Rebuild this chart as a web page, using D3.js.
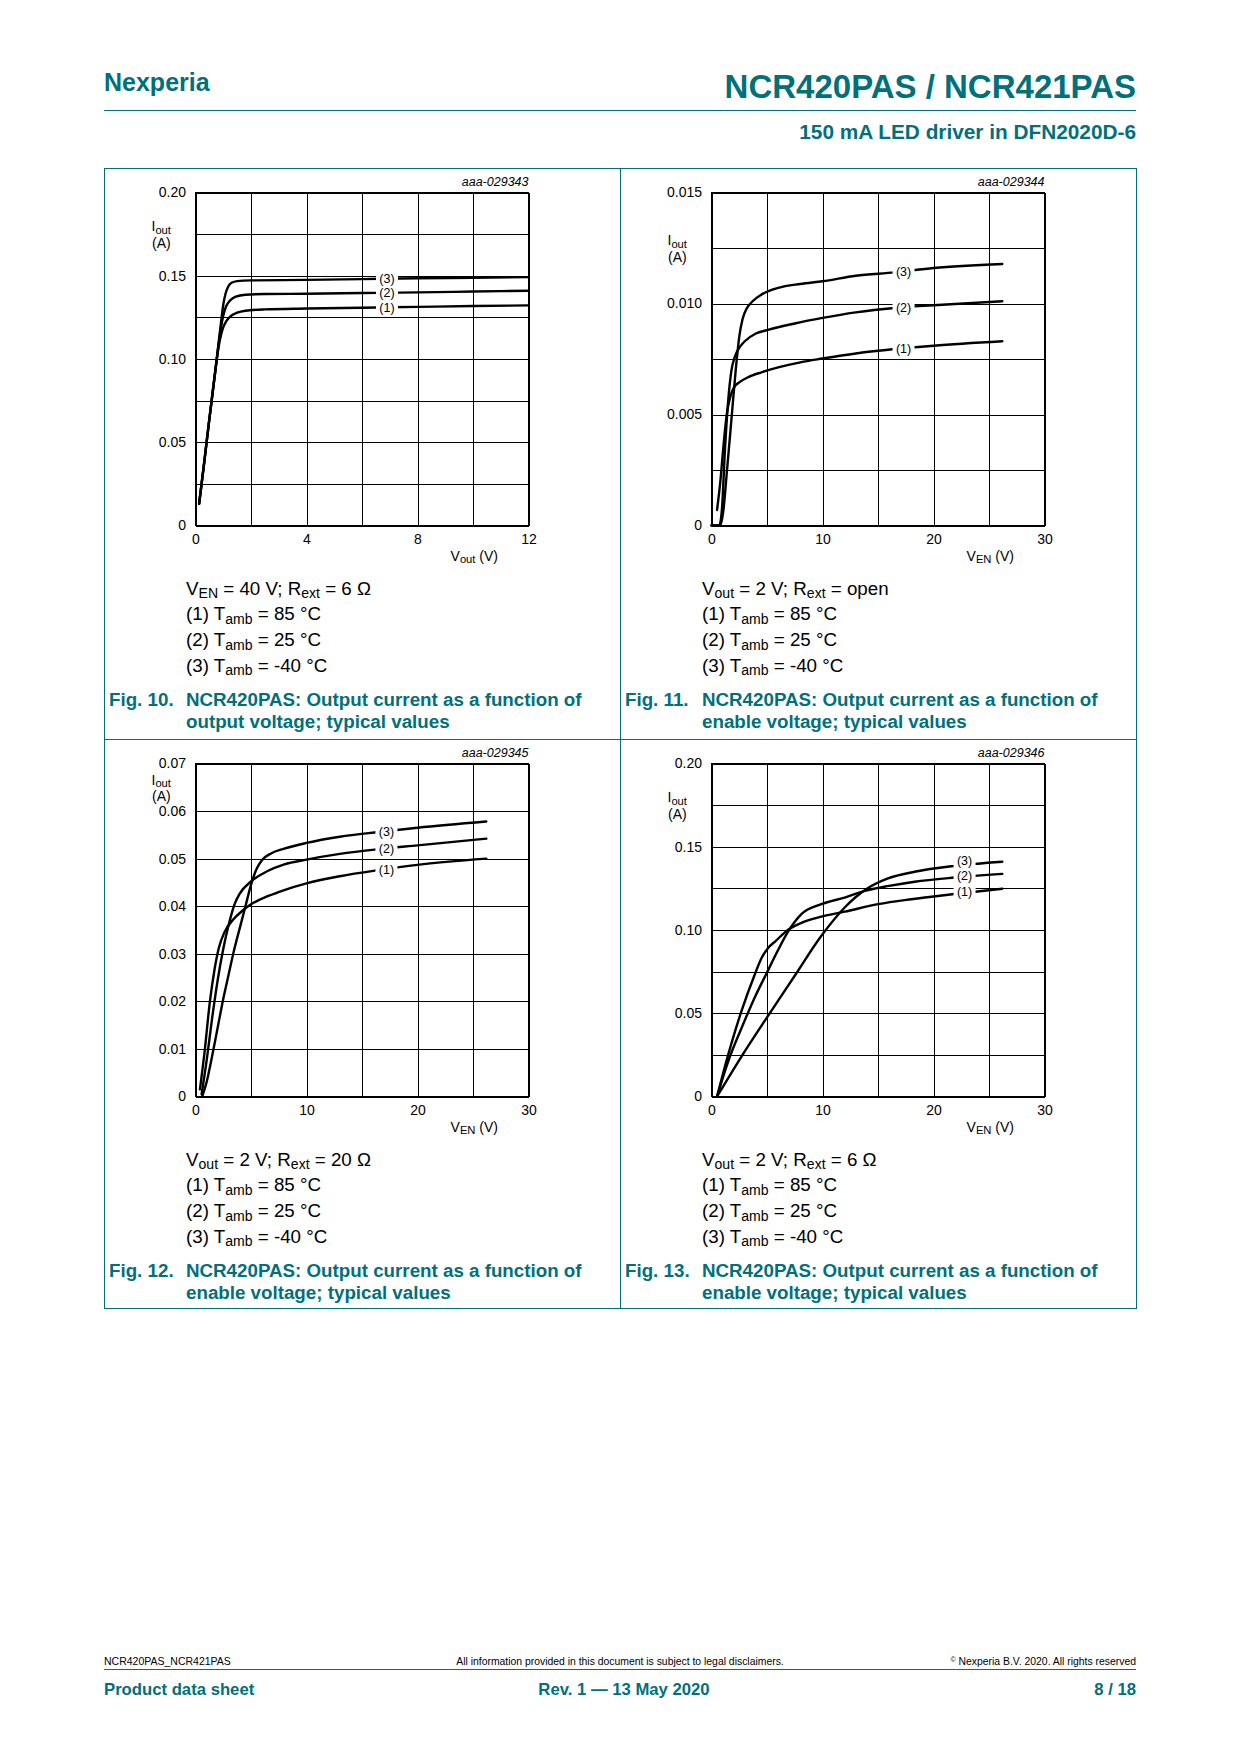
<!DOCTYPE html>
<html><head><meta charset="utf-8">
<script src="https://cdn.jsdelivr.net/npm/d3@7"></script>
<style>
html,body{margin:0;padding:0;background:#fff;}
svg{display:block;font-family:"Liberation Sans",Arial,Helvetica,sans-serif;}
text{white-space:pre;}
</style></head><body>
<svg id="page" width="1240" height="1754"></svg>
<script>
// ================= DATA =================
// Fig. 10 : Iout vs Vout (VEN = 40 V; Rext = 6 ohm)
const fig10T85  = [[0.13,0.013],[0.3,0.036],[0.5,0.064],[0.7,0.091],[0.82,0.106],[0.92,0.1145],[1.0,0.119],[1.1,0.1225],[1.25,0.1255],[1.5,0.1278],[1.8,0.129],[2.5,0.1298],[4,0.1303],[6,0.1308],[8,0.1313],[10,0.1318],[12,0.1322]];
const fig10T25  = [[0.13,0.013],[0.3,0.036],[0.5,0.064],[0.7,0.091],[0.82,0.107],[0.92,0.119],[1.0,0.126],[1.1,0.1315],[1.25,0.1352],[1.45,0.1375],[1.8,0.1386],[2.5,0.139],[4,0.1392],[6,0.1396],[8,0.14],[10,0.1405],[12,0.141]];
const fig10Tm40 = [[0.13,0.013],[0.3,0.036],[0.5,0.064],[0.7,0.091],[0.82,0.108],[0.92,0.122],[1.0,0.1325],[1.08,0.139],[1.18,0.1435],[1.3,0.1458],[1.5,0.1468],[2,0.1472],[4,0.1475],[6,0.148],[8,0.1485],[10,0.1488],[12,0.1492]];
const fig10XGrid = [0,2,4,6,8,10,12];
const fig10YGrid = [0,0.025,0.05,0.075,0.1,0.125,0.15,0.175,0.2];
const fig10XTicks = [0,4,8,12];
const fig10YTicks = [0,0.05,0.10,0.15,0.20];
const fig10YTickText = ["0","0.05","0.10","0.15","0.20"];
const fig10LabelX = 6.9;

// Fig. 11 : Iout vs VEN (Vout = 2 V; Rext = open)
const fig11T85  = [[0.5,0.0007],[0.8,0.002],[1.1,0.0037],[1.4,0.0051],[1.7,0.0058],[2.0,0.0062],[2.5,0.00645],[3.3,0.00668],[4.5,0.0069],[6,0.00712],[8,0.00735],[10,0.00752],[13,0.00775],[16.5,0.00795],[20,0.0081],[26.2,0.0083]];
const fig11T25  = [[0,0],[0.7,0],[0.95,0.0008],[1.2,0.0033],[1.5,0.0056],[1.8,0.007],[2.1,0.0076],[2.5,0.008],[3.0,0.0083],[4,0.00865],[5,0.0088],[7.5,0.0091],[10,0.00935],[13,0.0096],[16.5,0.0098],[20,0.00992],[26.2,0.0101]];
const fig11Tm40 = [[0,0],[0.8,0],[1.05,0.0006],[1.4,0.0025],[1.8,0.0048],[2.2,0.0071],[2.5,0.0085],[2.8,0.0093],[3.2,0.0098],[3.7,0.0101],[4.5,0.0104],[6,0.0107],[8,0.01088],[10,0.011],[13,0.01125],[16.5,0.0114],[20,0.0116],[26.2,0.01178]];
const fig11XGrid = [0,5,10,15,20,25,30];
const fig11YGrid = [0,0.0025,0.005,0.0075,0.01,0.0125,0.015];
const fig11XTicks = [0,10,20,30];
const fig11YTicks = [0,0.005,0.010,0.015];
const fig11YTickText = ["0","0.005","0.010","0.015"];
const fig11LabelX = 17.3;

// Fig. 12 : Iout vs VEN (Vout = 2 V; Rext = 20 ohm)
const fig12T85  = [[0.4,0.0015],[0.8,0.009],[1.3,0.02],[1.7,0.0265],[2.1,0.0312],[2.6,0.0345],[3.4,0.0372],[4.2,0.039],[5.0,0.0404],[6.5,0.0421],[8,0.0434],[10,0.0448],[13,0.0463],[16.5,0.0476],[20,0.0487],[26.2,0.05]];
const fig12T25  = [[0.55,0.0005],[1.0,0.0075],[1.5,0.0165],[2.0,0.0245],[2.5,0.031],[3.0,0.0362],[3.5,0.0403],[4.0,0.0427],[5.0,0.0452],[6.5,0.0474],[8,0.0488],[10,0.0498],[13,0.051],[16.5,0.052],[20,0.0528],[26.2,0.0542]];
const fig12Tm40 = [[0.6,0],[1.0,0.003],[1.5,0.0085],[2.0,0.0145],[2.5,0.0205],[3.0,0.0258],[3.5,0.031],[4.0,0.0355],[4.5,0.04],[5.0,0.0445],[5.5,0.0478],[6.0,0.0497],[6.8,0.0511],[8,0.0521],[10,0.0533],[13,0.0546],[16.5,0.0556],[20,0.0565],[26.2,0.0578]];
const fig12XGrid = [0,5,10,15,20,25,30];
const fig12YGrid = [0,0.01,0.02,0.03,0.04,0.05,0.06,0.07];
const fig12XTicks = [0,10,20,30];
const fig12YTicks = [0,0.01,0.02,0.03,0.04,0.05,0.06,0.07];
const fig12YTickText = ["0","0.01","0.02","0.03","0.04","0.05","0.06","0.07"];
const fig12LabelX = 17.2;

// Fig. 13 : Iout vs VEN (Vout = 2 V; Rext = 6 ohm)
const fig13T85  = [[0.5,0],[1.5,0.025],[2.7,0.0513],[3.9,0.0733],[4.5,0.083],[5.1,0.0892],[5.8,0.0935],[6.9,0.1002],[8,0.104],[9.9,0.108],[12,0.111],[15,0.1155],[18,0.1185],[21.9,0.1216],[26.2,0.1248]];
const fig13T25  = [[0.5,0],[1.5,0.021],[2.7,0.041],[4,0.061],[5,0.0745],[6,0.088],[6.9,0.099],[8.1,0.1095],[9.9,0.1155],[12,0.1195],[13.8,0.1235],[16,0.1265],[18.3,0.129],[21.9,0.1315],[26.2,0.1337]];
const fig13Tm40 = [[0.5,0],[2.7,0.024],[5,0.0475],[7.5,0.0725],[9.9,0.0965],[12,0.1135],[13,0.1198],[14.1,0.1252],[15.9,0.131],[18.3,0.135],[21.9,0.1385],[26.2,0.141]];
const fig13XGrid = [0,5,10,15,20,25,30];
const fig13YGrid = [0,0.025,0.05,0.075,0.1,0.125,0.15,0.175,0.2];
const fig13XTicks = [0,10,20,30];
const fig13YTicks = [0,0.05,0.10,0.15,0.20];
const fig13YTickText = ["0","0.05","0.10","0.15","0.20"];
const fig13LabelX = 22.8;

const curveLabels = ["(1)","(2)","(3)"];
const chartIds = ["aaa-029343","aaa-029344","aaa-029345","aaa-029346"];
const figNumbers = ["Fig. 10.","Fig. 11.","Fig. 12.","Fig. 13."];
const figTitle1 = "NCR420PAS: Output current as a function of";
const figTitle2 = ["output voltage; typical values","enable voltage; typical values","enable voltage; typical values","enable voltage; typical values"];
const condLines = [
  [["V",""],["EN","sub"],[" = 40 V; R",""],["ext","sub"],[" = 6 Ω",""]],
  [["V",""],["out","sub"],[" = 2 V; R",""],["ext","sub"],[" = open",""]],
  [["V",""],["out","sub"],[" = 2 V; R",""],["ext","sub"],[" = 20 Ω",""]],
  [["V",""],["out","sub"],[" = 2 V; R",""],["ext","sub"],[" = 6 Ω",""]]
];
const tempLines = [
  [["(1) T",""],["amb","sub"],[" = 85 °C",""]],
  [["(2) T",""],["amb","sub"],[" = 25 °C",""]],
  [["(3) T",""],["amb","sub"],[" = -40 °C",""]]
];
const xAxisLabels = [
  [["V",""],["out","sub"],[" (V)",""]],
  [["V",""],["EN","sub"],[" (V)",""]],
  [["V",""],["EN","sub"],[" (V)",""]],
  [["V",""],["EN","sub"],[" (V)",""]]
];

// ================= LAYOUT =================
const TEAL = "#00707a";
const svg = d3.select("#page");
svg.append("rect").attr("width",1240).attr("height",1754).attr("fill","#fff");

function richText(sel, x, y, parts, size, anchor, subRatio) {
  const sr = subRatio || 0.75;
  const t = sel.append("text").attr("x", x).attr("y", y).attr("font-size", size);
  if (anchor) t.attr("text-anchor", anchor);
  let shifted = 0;
  parts.forEach(p => {
    const isSub = p[1] === "sub";
    const target = isSub ? size * 0.2 : 0;
    const ts = t.append("tspan").text(p[0]);
    if (target - shifted !== 0) ts.attr("dy", target - shifted);
    if (isSub) ts.attr("font-size", size * sr);
    shifted = target;
  });
  return t;
}

function interp(series, xv) {
  for (let i = 1; i < series.length; i++) {
    const a = series[i-1], b = series[i];
    if (xv >= a[0] && xv <= b[0]) return a[1] + (b[1]-a[1]) * (xv - a[0]) / (b[0] - a[0]);
  }
  return series[series.length-1][1];
}

const SIZE = 333;
const CH_FONT = 14;
const charts = [
  {left:195.5, top:192.5, xDomain:[0,12], yDomain:[0,0.2], series:[fig10T85,fig10T25,fig10Tm40], xGrid:fig10XGrid, yGrid:fig10YGrid, xTicks:fig10XTicks, yTicks:fig10YTicks, yText:fig10YTickText, labelX:fig10LabelX, labelDy:[0,0,0], ylabOff:38.5},
  {left:711.5, top:192.5, xDomain:[0,30], yDomain:[0,0.015], series:[fig11T85,fig11T25,fig11Tm40], xGrid:fig11XGrid, yGrid:fig11YGrid, xTicks:fig11XTicks, yTicks:fig11YTicks, yText:fig11YTickText, labelX:fig11LabelX, labelDy:[0,0,0], ylabOff:52.5},
  {left:195.5, top:763.5, xDomain:[0,30], yDomain:[0,0.07], series:[fig12T85,fig12T25,fig12Tm40], xGrid:fig12XGrid, yGrid:fig12YGrid, xTicks:fig12XTicks, yTicks:fig12YTicks, yText:fig12YTickText, labelX:fig12LabelX, labelDy:[0,0,0], ylabOff:21},
  {left:711.5, top:763.5, xDomain:[0,30], yDomain:[0,0.2], series:[fig13T85,fig13T25,fig13Tm40], xGrid:fig13XGrid, yGrid:fig13YGrid, xTicks:fig13XTicks, yTicks:fig13YTicks, yText:fig13YTickText, labelX:fig13LabelX, labelDy:[-1.5,-1.5,-5], ylabOff:38.5}
];

charts.forEach((c, ci) => {
  const g = svg.append("g");
  const x = d3.scaleLinear().domain(c.xDomain).range([c.left, c.left + SIZE]);
  const y = d3.scaleLinear().domain(c.yDomain).range([c.top + SIZE, c.top]);
  const bottom = c.top + SIZE;

  // grid via axes
  const gx = g.append("g").attr("transform", `translate(0,${bottom})`)
    .call(d3.axisBottom(x).tickValues(c.xGrid).tickSize(-SIZE).tickFormat(""));
  const gy = g.append("g").attr("transform", `translate(${c.left},0)`)
    .call(d3.axisLeft(y).tickValues(c.yGrid).tickSize(-SIZE).tickFormat(""));
  [gx, gy].forEach(a => {
    a.select(".domain").remove();
    a.selectAll("line").attr("stroke", "#000").attr("stroke-width", 1).attr("shape-rendering", "crispEdges");
  });
  g.append("rect").attr("x", c.left).attr("y", c.top).attr("width", SIZE).attr("height", SIZE)
    .attr("fill", "none").attr("stroke", "#000").attr("stroke-width", 1).attr("shape-rendering", "crispEdges");

  // tick labels via axes
  const lx = g.append("g").attr("transform", `translate(0,${bottom})`)
    .call(d3.axisBottom(x).tickValues(c.xTicks).tickSize(0).tickPadding(9).tickFormat(d3.format("d")));
  const ly = g.append("g").attr("transform", `translate(${c.left},0)`)
    .call(d3.axisLeft(y).tickValues(c.yTicks).tickSize(0).tickPadding(9.5).tickFormat((d,i) => c.yText[i]));
  [lx, ly].forEach(a => {
    a.select(".domain").remove();
    a.attr("font-family", null).attr("font-size", null);
    a.selectAll("text").attr("font-size", CH_FONT).attr("fill", "#000");
  });

  // curves
  const line = d3.line().x(d => x(d[0])).y(d => y(d[1])).curve(d3.curveMonotoneX);
  g.selectAll(null).data(c.series).join("path")
    .attr("d", line).attr("fill", "none").attr("stroke", "#000")
    .attr("stroke-width", 2.4).attr("stroke-linecap", "round").attr("stroke-linejoin", "round");

  // curve labels (white gap over the curve, text on top)
  c.series.forEach((s, si) => {
    const cx = x(c.labelX);
    const curveY = y(interp(s, c.labelX));
    const cy = curveY + c.labelDy[si];
    const top = Math.min(cy, curveY) - 5.5;
    const bot = Math.max(cy, curveY) + 5.5;
    g.append("rect").attr("x", cx - 11).attr("y", top).attr("width", 22).attr("height", bot - top).attr("fill", "#fff");
    g.append("text").attr("x", cx).attr("y", cy).attr("dy", "0.36em").attr("text-anchor", "middle")
      .attr("font-size", 12.5).text(curveLabels[si]);
  });

  // chart id
  g.append("text").attr("x", c.left + SIZE).attr("y", c.top - 7).attr("text-anchor", "end")
    .attr("font-size", 12.5).attr("font-style", "italic").text(chartIds[ci]);

  // y axis label
  richText(g, c.left - 44, c.top + c.ylabOff, [["I",""],["out","sub"]], CH_FONT, null, 0.8);
  g.append("text").attr("x", c.left - 43.5).attr("y", c.top + c.ylabOff + 16.5).attr("font-size", CH_FONT).text("(A)");

  // x axis label
  richText(g, c.left + SIZE - 30.5, bottom + 35, xAxisLabels[ci], CH_FONT, "end", 0.8);

  // captions
  const tx = c.left - 9.5;
  richText(g, tx, c.top + 402, condLines[ci], 18.75);
  tempLines.forEach((tl, ti) => richText(g, tx, c.top + 427.5 + ti * 25.8, tl, 18.75));
  const fx = (ci % 2 === 0) ? 109 : 625;
  const cap = g.append("g").attr("fill", TEAL).attr("font-weight", "bold").attr("font-size", 18.75);
  cap.append("text").attr("x", fx).attr("y", c.top + 513.5).text(figNumbers[ci]);
  cap.append("text").attr("x", tx).attr("y", c.top + 513.5).text(figTitle1);
  cap.append("text").attr("x", tx).attr("y", c.top + 535.5).text(figTitle2[ci]);
});

// frame of figure table
const fr = svg.append("g").attr("stroke", TEAL).attr("stroke-width", 1).attr("shape-rendering", "crispEdges");
fr.append("rect").attr("x", 104.5).attr("y", 168.5).attr("width", 1031.5).attr("height", 1140).attr("fill", "none");
fr.append("line").attr("x1", 620.5).attr("x2", 620.5).attr("y1", 168.5).attr("y2", 1308.5);
fr.append("line").attr("x1", 104.5).attr("x2", 1136).attr("y1", 739.5).attr("y2", 739.5);

// header
svg.append("text").attr("x", 104).attr("y", 91).attr("fill", TEAL).attr("font-weight", "bold").attr("font-size", 25).text("Nexperia");
svg.append("text").attr("x", 1136).attr("y", 98).attr("text-anchor", "end").attr("fill", TEAL).attr("font-weight", "bold").attr("font-size", 33).text("NCR420PAS / NCR421PAS");
svg.append("line").attr("x1", 104).attr("x2", 1136).attr("y1", 110.5).attr("y2", 110.5).attr("stroke", TEAL).attr("stroke-width", 1.2);
svg.append("text").attr("x", 1136).attr("y", 138.5).attr("text-anchor", "end").attr("fill", TEAL).attr("font-weight", "bold").attr("font-size", 20.8).text("150 mA LED driver in DFN2020D-6");

// footer
svg.append("text").attr("x", 104).attr("y", 1665).attr("font-size", 10.5).text("NCR420PAS_NCR421PAS");
svg.append("text").attr("x", 620).attr("y", 1665).attr("font-size", 10.4).attr("text-anchor", "middle").text("All information provided in this document is subject to legal disclaimers.");
const cp = svg.append("text").attr("x", 1136).attr("y", 1665).attr("font-size", 10.4).attr("text-anchor", "end");
cp.append("tspan").attr("font-size", 7).attr("dy", -3).text("©");
cp.append("tspan").attr("dy", 3).text(" Nexperia B.V. 2020. All rights reserved");
svg.append("line").attr("x1", 104).attr("x2", 1136).attr("y1", 1669.5).attr("y2", 1669.5).attr("stroke", TEAL).attr("stroke-width", 1.2);
const ft = svg.append("g").attr("fill", TEAL).attr("font-weight", "bold").attr("font-size", 16.7);
ft.append("text").attr("x", 104).attr("y", 1695).text("Product data sheet");
ft.append("text").attr("x", 624).attr("y", 1695).attr("text-anchor", "middle").text("Rev. 1 — 13 May 2020");
ft.append("text").attr("x", 1136).attr("y", 1695).attr("text-anchor", "end").text("8 / 18");
</script>
</body></html>
